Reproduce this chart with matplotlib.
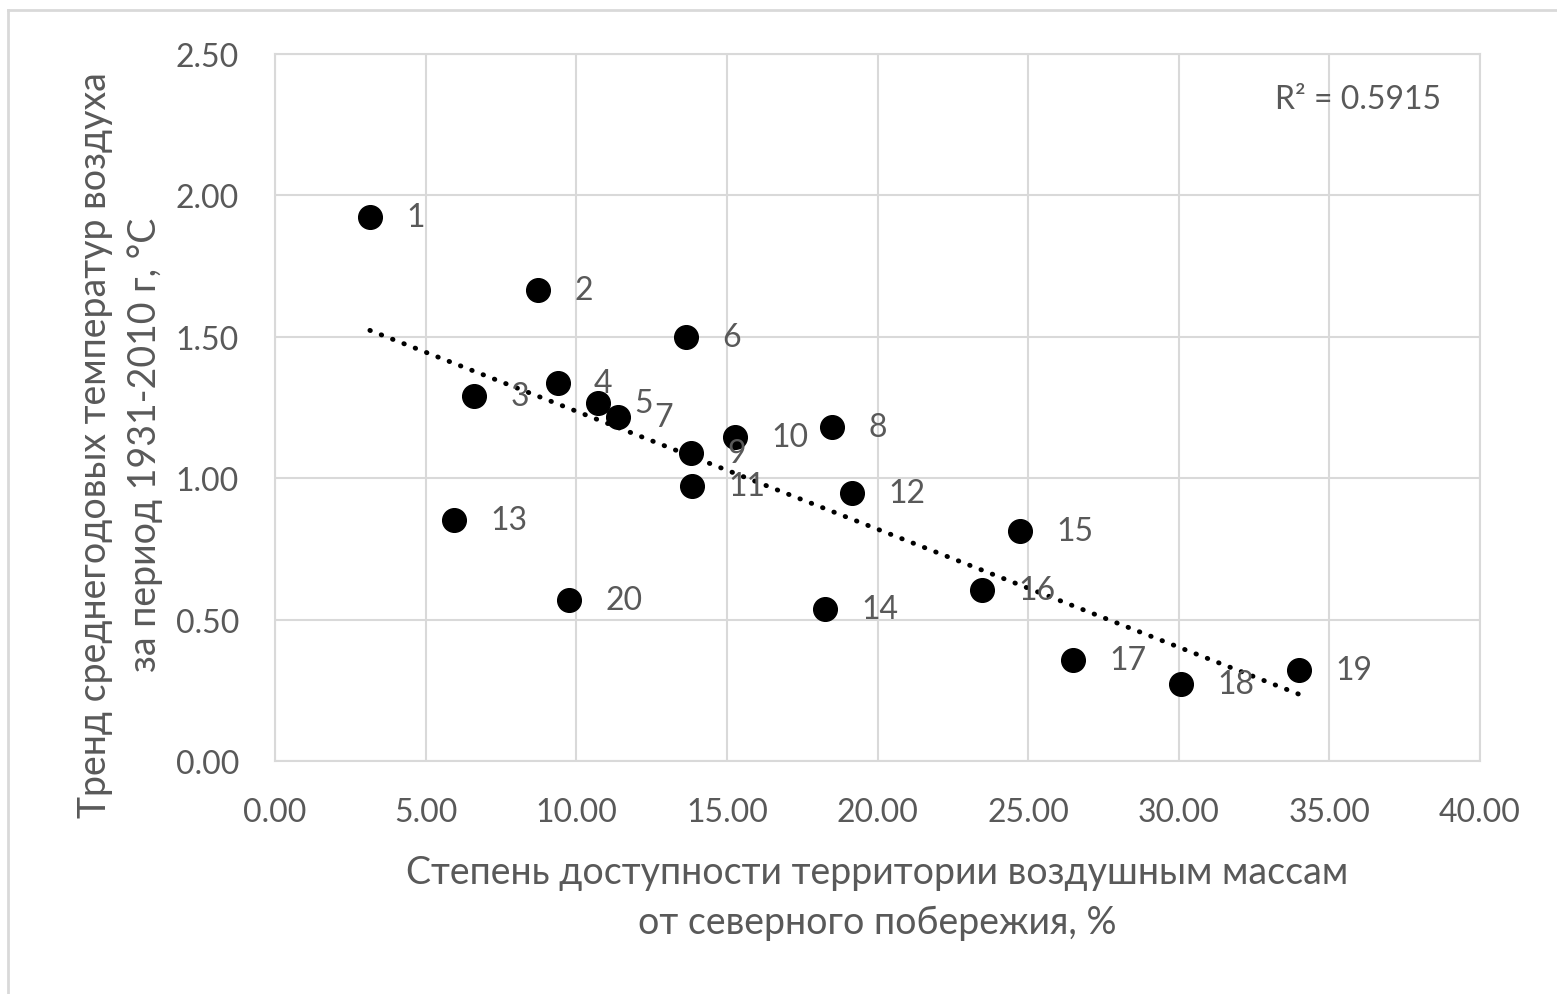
import numpy as np
from matplotlib import pyplot as plt
from matplotlib.lines import Line2D

plt.rcParams['font.family'] = ['Lato', 'DejaVu Sans']

# Point numbers and coordinates
labels = ['1', '2', '3', '4', '5', '6', '7', '8', '9', '10',
          '11', '12', '13', '14', '15', '16', '17', '18', '19', '20']
access = [3.15, 8.73, 6.61, 9.39, 10.72, 13.64, 11.39, 18.49, 13.81, 15.27,
          13.84, 19.15, 5.94, 18.26, 24.73, 23.47, 26.49, 30.07, 33.99, 9.76]
trend = [1.924, 1.666, 1.291, 1.337, 1.266, 1.499, 1.216, 1.181, 1.089, 1.146,
         0.972, 0.948, 0.852, 0.537, 0.813, 0.605, 0.357, 0.272, 0.322, 0.569]
r2_text = 'R² = 0.5915'

x_ticks = np.arange(0, 40.1, 5)
y_ticks = np.arange(0, 2.51, 0.5)

grey = '#595959'
grid = '#d9d9d9'

fig = plt.figure(figsize=(15.57, 9.95), dpi=100)
ax = fig.add_axes([275 / 1557, 1 - 762 / 995, 1205 / 1557, 707 / 995])

ax.scatter(access, trend, s=290, color='black', zorder=3)

# linear trend line over the data range
k, b = np.polyfit(access, trend, 1)
xs = np.array([min(access), max(access)])
ax.plot(xs, k * xs + b, color='black', lw=3.5, linestyle=(0, (0.1, 2.4)),
        dash_capstyle='round', zorder=2)

for lab, xv, yv in zip(labels, access, trend):
    ax.annotate(lab, (xv, yv), xytext=(26, 0), textcoords='offset points',
                ha='left', va='center', fontsize=23, color=grey, zorder=4)

ax.set_xlim(0, 40)
ax.set_ylim(0, 2.5)
ax.set_xticks(x_ticks)
ax.set_yticks(y_ticks)
ax.set_xticklabels(['%.2f' % v for v in x_ticks])
ax.set_yticklabels(['%.2f' % v for v in y_ticks])
ax.tick_params(length=0, labelsize=23, labelcolor=grey)
ax.tick_params(axis='x', pad=26)
ax.tick_params(axis='y', pad=26)
ax.grid(True, color=grid, lw=1.5)
ax.set_axisbelow(True)
for sp in ax.spines.values():
    sp.set_color(grid)
    sp.set_linewidth(1.5)

ax.text(0.968, 0.936, r2_text, transform=ax.transAxes, ha='right', va='center',
        fontsize=23, color=grey)

fig.text(877 / 1557, 1 - 898 / 995,
         'Степень доступности территории воздушным массам\nот северного побережия, %',
         ha='center', va='center', fontsize=27, color=grey, linespacing=1.45)
fig.text(120 / 1557, 1 - 445 / 995,
         'Тренд среднегодовых температур воздуха\nза период 1931-2010 г, °С',
         ha='center', va='center', rotation=90, fontsize=27, color=grey,
         linespacing=1.45)

# outer chart border
fig.add_artist(Line2D([8 / 1557, 8 / 1557], [0, 1 - 11 / 995], color=grid, lw=2,
                      transform=fig.transFigure))
fig.add_artist(Line2D([8 / 1557, 1], [1 - 11 / 995, 1 - 11 / 995], color=grid, lw=2,
                      transform=fig.transFigure))

fig.savefig('out.png', dpi=100)
